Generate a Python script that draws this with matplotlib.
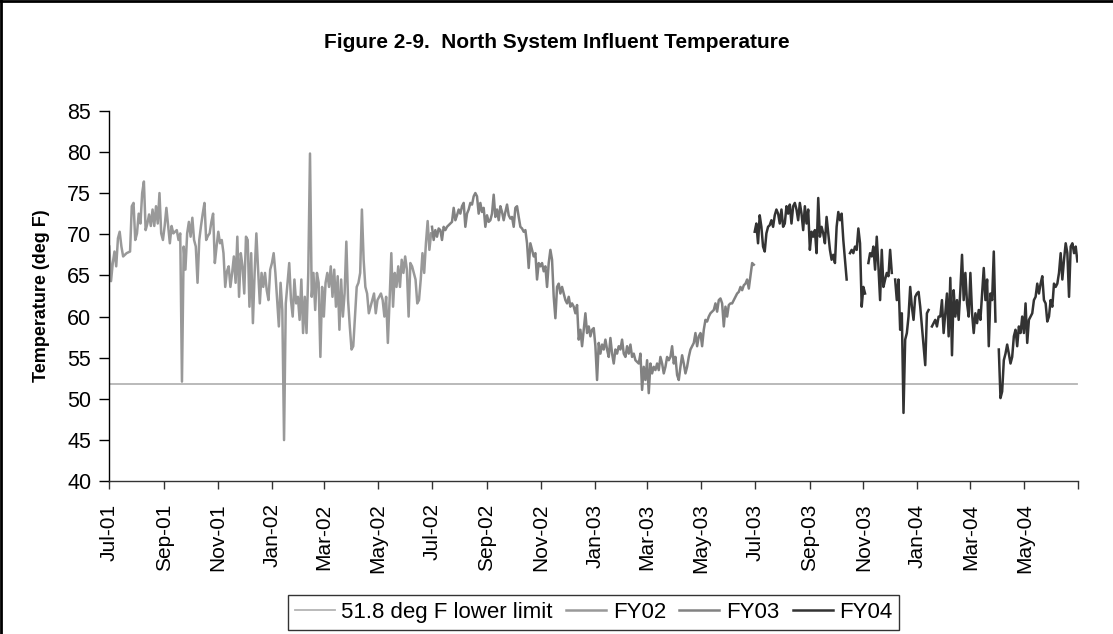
import numpy as np
import pandas as pd
import matplotlib
matplotlib.use('Agg')
import matplotlib.pyplot as plt
from matplotlib.lines import Line2D

plt.rcParams['font.family'] = ['Liberation Sans', 'DejaVu Sans']

# lower limit line
limit_dates = ['2001-07-01', '2004-06-30']
limit_vals = [51.8, 51.8]

# daily influent temperature (approx. every 2 days)
fy02 = [68.5, 64.3, 66.5, 67.9, 66.1, 69.5, 70.3, 68.5, 67.3, 67.5, 67.7, 67.8, 67.9, 73.4, 73.8, 69.3,
        70.1, 72.5, 71.3, 75.0, 76.4, 70.5, 71.3, 72.4, 71.0, 73.0, 71.0, 73.4, 71.3, 75.0, 70.1, 69.3,
        71.0, 73.2, 71.0, 68.9, 71.0, 70.1, 70.3, 70.5, 69.3, 70.1, 52.1, 68.5, 65.7, 70.1, 71.5, 69.7,
        72.0, 69.3, 68.5, 64.1, 69.3, 71.0, 72.5, 73.8, 69.3, 69.8, 70.1, 71.5, 72.5, 66.5, 68.5, 70.3,
        68.9, 69.3, 67.7, 63.6, 65.5, 66.1, 63.6, 65.3, 67.3, 64.1, 69.7, 62.4, 67.7, 66.1, 62.8, 69.7,
        69.3, 61.2, 67.7, 59.2, 65.3, 70.1, 65.7, 61.6, 65.3, 63.6, 65.3, 63.2, 62.0, 65.7, 66.5, 67.7,
        65.3, 62.0, 58.8, 64.1, 60.8, 45.0, 61.6, 64.1, 66.5, 62.0, 60.0, 64.5, 61.6, 62.4, 59.6, 64.5,
        58.0, 62.4, 58.0, 65.3, 79.8, 62.4, 65.3, 60.8, 65.3, 64.1, 55.1, 63.6, 60.0, 64.1, 65.3, 63.6,
        66.1, 62.4, 65.7, 61.2, 64.9, 58.4, 64.5, 60.0, 62.8, 69.1, 62.0, 58.8, 56.0, 56.4, 60.0, 63.6,
        64.1, 65.3, 73.0, 66.9, 63.6, 62.8, 60.4, 61.2, 62.0, 62.8, 60.4, 62.0, 62.4, 62.8, 62.0, 60.0,
        62.4, 56.8, 62.0, 67.7, 61.2, 65.3, 63.6, 66.1, 63.6, 66.9, 65.3, 67.3, 65.7, 60.0, 66.5, 66.1,
        65.3, 64.5, 61.6, 62.0, 64.5, 67.7, 65.3, 68.9, 71.6, 68.1, 70.1]

fy03 = [70.9, 69.3, 70.5, 69.7, 70.7, 70.5, 69.3, 70.9, 70.5, 70.9, 71.1, 71.3, 71.5, 73.2, 71.7, 72.3,
        73.0, 72.5, 73.4, 73.8, 70.9, 72.5, 73.0, 73.8, 73.6, 74.6, 75.0, 74.6, 72.5, 73.8, 72.7, 73.2,
        70.9, 72.3, 71.5, 71.7, 72.5, 74.8, 72.1, 73.0, 71.7, 73.4, 72.7, 71.7, 72.7, 73.6, 72.3, 71.9,
        72.1, 70.9, 73.2, 73.4, 72.1, 70.9, 70.7, 70.3, 70.5, 68.9, 65.9, 68.9, 68.1, 67.3, 67.7, 64.5,
        66.5, 66.1, 66.5, 65.5, 66.1, 63.6, 66.5, 68.1, 66.9, 62.4, 59.8, 63.6, 64.0, 62.8, 63.6, 62.8,
        62.0, 61.6, 62.4, 61.2, 61.6, 61.2, 60.4, 61.4, 57.2, 58.4, 56.4, 58.4, 60.4, 58.0, 58.8, 57.6,
        58.4, 58.6, 56.4, 52.3, 56.8, 55.5, 56.6, 56.0, 57.2, 56.0, 55.1, 57.4, 55.5, 54.3, 56.0, 55.5,
        56.4, 56.0, 57.2, 55.5, 55.1, 56.4, 55.5, 56.6, 55.1, 55.5, 54.7, 54.5, 54.3, 55.5, 51.1, 53.9,
        52.3, 54.7, 50.7, 54.3, 53.1, 53.9, 53.5, 54.3, 53.5, 55.1, 54.3, 53.1, 53.9, 55.1, 54.7, 55.1,
        56.4, 54.3, 55.1, 52.9, 52.3, 53.9, 55.3, 54.3, 53.1, 53.9, 55.1, 56.0, 56.4, 56.8, 58.0, 56.4,
        57.6, 58.0, 56.4, 58.4, 59.6, 59.4, 60.0, 60.4, 60.6, 60.8, 61.6, 60.6, 62.0, 62.2, 61.6, 58.8,
        61.2, 60.0, 61.4, 61.6, 61.6, 62.0, 62.4, 62.8, 63.0, 63.6, 63.2, 63.8, 64.0, 64.5, 63.4, 64.9,
        66.5, 66.3]

nan = np.nan
fy04 = [70.3, 71.3, 68.9, 72.3, 70.9, 68.5, 67.9, 70.1, 70.9, 71.1, 71.7, 70.9, 72.3, 73.0, 72.5, 71.3,
        73.0, 70.9, 71.3, 73.4, 72.5, 73.6, 71.3, 73.4, 73.8, 73.0, 71.7, 73.8, 72.5, 70.5, 73.4, 71.3,
        73.0, 68.1, 70.3, 69.7, 70.5, 67.7, 74.4, 69.7, 70.9, 70.1, 68.9, 72.1, 70.1, 68.1, 66.9, 67.5,
        66.5, 70.9, 72.7, 71.7, 72.5, 69.3, 66.9, 64.5, nan, 67.7, 68.1, 67.7, 68.5, 68.1, 70.7, 68.9,
        61.2, 63.6, 62.8, nan, 66.5, 67.7, 67.3, 68.5, 65.7, 69.7, 66.1, 62.0, 68.1, 63.6, 64.5, 65.3,
        64.9, 68.1, 65.3, nan, 64.5, 62.0, 64.5, 58.4, 60.4, 48.3, 57.2, 58.0, 60.0, 63.6, 61.2, 59.6,
        62.4, 62.8, 63.0, 61.2, 58.8, 56.4, 54.1, 60.4, 60.8, nan, 58.8, 59.2, 59.6, 58.8, 60.0, 60.0,
        62.0, 58.0, 60.4, 62.8, 57.6, 64.7, 55.3, 63.2, 60.0, 62.0, 59.6, 63.2, 67.5, 62.0, 65.3, 61.6,
        60.0, 65.3, 60.4, 58.0, 60.4, 59.2, 60.8, 59.6, 62.8, 65.9, 62.0, 64.5, 56.4, 62.8, 62.0, 67.9,
        59.4, nan, 56.0, 50.1, 50.9, 54.7, 55.5, 56.6, 55.5, 54.3, 55.1, 57.6, 58.4, 56.4, 58.8, 58.0,
        60.0, 58.0, 61.6, 56.8, 59.6, 60.0, 60.4, 62.0, 62.4, 64.0, 62.8, 64.0, 64.9, 62.0, 61.6, 59.4,
        60.0, 62.0, 61.2, 64.0, 63.6, 64.0, 65.3, 67.7, 64.5, 66.9, 68.9, 67.7, 62.4, 68.5, 68.9, 67.7,
        68.5, 66.7]

fy_spans = {'FY02': ('2001-07-01', '2002-06-30'),
            'FY03': ('2002-07-01', '2003-06-30'),
            'FY04': ('2003-07-01', '2004-06-30')}
fy_colors = {'FY02': '#999999', 'FY03': '#828282', 'FY04': '#333333'}

fig = plt.figure(figsize=(11.13, 6.34), dpi=100)
ax = fig.add_axes([0.0982, 0.2409, 0.8706, 0.5845])

ax.plot(pd.to_datetime(limit_dates), limit_vals, color='#b4b4b4', lw=1.3,
        label='51.8 deg F lower limit')
for name, vals in [('FY02', fy02), ('FY03', fy03), ('FY04', fy04)]:
    start, end = fy_spans[name]
    dates = pd.date_range(start, end, periods=len(vals))
    ax.plot(dates, vals, color=fy_colors[name], lw=1.8, label=name)

ax.set_xlim(pd.Timestamp('2001-07-01'), pd.Timestamp('2004-07-01'))
ax.set_ylim(40, 85)
ax.set_yticks(np.arange(40, 86, 5))
ticks = pd.date_range('2001-07-01', '2004-07-01', freq='2MS')
ax.set_xticks(ticks)
ax.set_xticklabels([t.strftime('%b-%y') if i < len(ticks) - 1 else '' for i, t in enumerate(ticks)],
                   rotation=90)
ax.tick_params(axis='x', length=6, width=1, pad=10, labelsize=15, color='#333333')
ax.tick_params(axis='y', length=7, width=1, pad=6, labelsize=15.5)
for s in ['top', 'right']:
    ax.spines[s].set_visible(False)
ax.spines['left'].set_linewidth(1)
ax.spines['bottom'].set_linewidth(1)
ax.spines['bottom'].set_color('#333333')

fig.text(0.5, 1 - 42 / 634, 'Figure 2-9.  North System Influent Temperature', ha='center', va='center',
         fontsize=15, fontweight='bold')
fig.text(42 / 1113, 1 - 296 / 634, 'Temperature (deg F)', rotation=90, ha='center', va='center',
         fontsize=13, fontweight='bold')

leg = fig.legend(loc='center', bbox_to_anchor=(593.5 / 1113, 1 - 612.5 / 634), ncol=4,
                 prop={'size': 16}, frameon=True, fancybox=False,
                 handlelength=1.8, handletextpad=0.3, columnspacing=0.6, borderpad=0.3)
leg.get_frame().set_edgecolor('black')
leg.get_frame().set_linewidth(1)

fig.add_artist(Line2D([0.001, 0.001], [0, 1], color='black', lw=2, transform=fig.transFigure))
fig.add_artist(Line2D([0, 1], [0.998, 0.998], color='black', lw=2, transform=fig.transFigure))

fig.savefig('out.png', dpi=100)
